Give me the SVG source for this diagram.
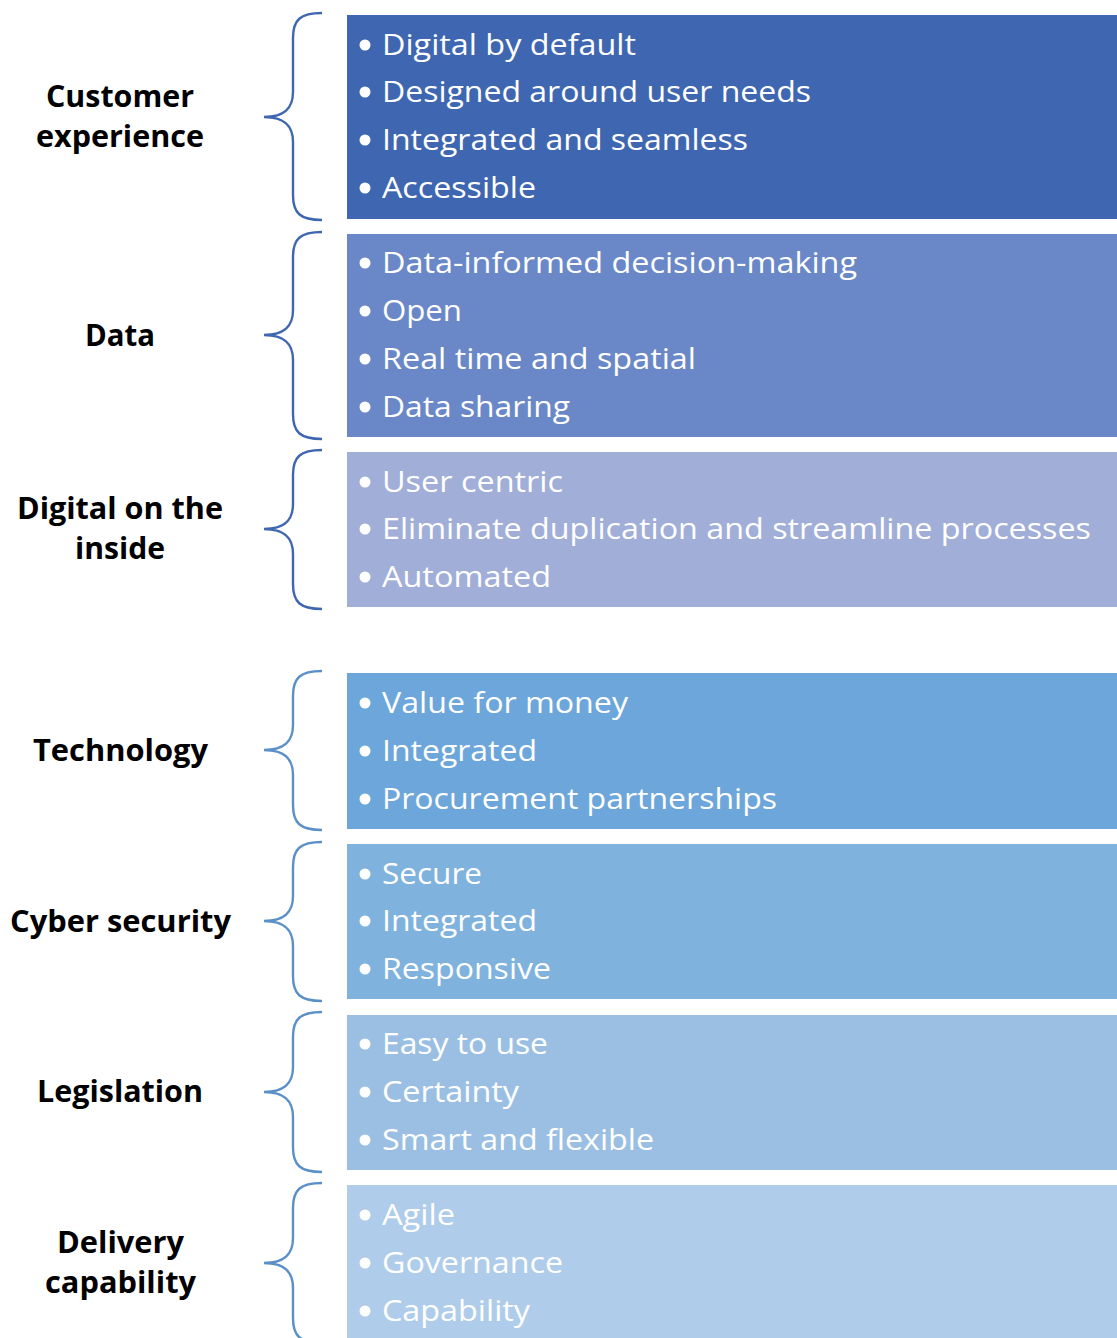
<svg xmlns="http://www.w3.org/2000/svg" width="1117" height="1338" viewBox="0 0 1117 1338">
<style>
.lbl{font-family:"Open Sans","Liberation Sans",sans-serif;font-weight:bold;font-size:30px;fill:#000;text-anchor:start}
.it{font-family:"Open Sans","Liberation Sans",sans-serif;font-size:30px;fill:#fff}
.bul{fill:#fff}
.br1{fill:none;stroke:#3f66b0;stroke-width:2.4}
.br2{fill:none;stroke:#5a8fc8;stroke-width:2.4}
</style>
<rect width="1117" height="1338" fill="#fff"/>
<g id="connectors">
<path class="br1" d="M322,13 C300,13 293,20 293,38 L293,92 C293,108 285,117 264,117 C285,117 293,126 293,142 L293,195 C293,213 300,220 322,220"/>
<path class="br1" d="M322,232 C300,232 293,239 293,257 L293,310 C293,326 285,335 264,335 C285,335 293,344 293,360 L293,414 C293,432 300,439 322,439"/>
<path class="br1" d="M322,450 C300,450 293,457 293,475 L293,504 C293,520 285,529 264,529 C285,529 293,538 293,554 L293,584 C293,602 300,609 322,609"/>
<path class="br2" d="M322,671 C300,671 293,678 293,696 L293,725 C293,741 285,750 264,750 C285,750 293,759 293,775 L293,805 C293,823 300,830 322,830"/>
<path class="br2" d="M322,842 C300,842 293,849 293,867 L293,896 C293,912 285,921 264,921 C285,921 293,930 293,946 L293,976 C293,994 300,1001 322,1001"/>
<path class="br2" d="M322,1012 C300,1012 293,1019 293,1037 L293,1067 C293,1083 285,1092 264,1092 C285,1092 293,1101 293,1117 L293,1147 C293,1165 300,1172 322,1172"/>
<path class="br2" d="M322,1183 C300,1183 293,1190 293,1208 L293,1238 C293,1254 285,1263 264,1263 C285,1263 293,1272 293,1288 L293,1318 C293,1336 300,1343 322,1343"/>
</g>
<g id="customer-experience">
<text class="lbl" x="46" y="107" textLength="148" lengthAdjust="spacingAndGlyphs">Customer</text>
<text class="lbl" x="36" y="147" textLength="168" lengthAdjust="spacingAndGlyphs">experience</text>
<rect x="347" y="15" width="770" height="204" fill="#3f67b1"/>
<circle class="bul" cx="365" cy="45" r="5.5"/><text class="it" x="382" y="55" textLength="254" lengthAdjust="spacingAndGlyphs">Digital by default</text>
<circle class="bul" cx="365" cy="92" r="5.5"/><text class="it" x="382" y="102" textLength="429" lengthAdjust="spacingAndGlyphs">Designed around user needs</text>
<circle class="bul" cx="365" cy="140" r="5.5"/><text class="it" x="382" y="150" textLength="366" lengthAdjust="spacingAndGlyphs">Integrated and seamless</text>
<circle class="bul" cx="365" cy="188" r="5.5"/><text class="it" x="382" y="198" textLength="154" lengthAdjust="spacingAndGlyphs">Accessible</text>
</g>
<g id="data">
<text class="lbl" x="85" y="346" textLength="70" lengthAdjust="spacingAndGlyphs">Data</text>
<rect x="347" y="234" width="770" height="203" fill="#6a88c7"/>
<circle class="bul" cx="365" cy="263" r="5.5"/><text class="it" x="382" y="273" textLength="475" lengthAdjust="spacingAndGlyphs">Data-informed decision-making</text>
<circle class="bul" cx="365" cy="311" r="5.5"/><text class="it" x="382" y="321" textLength="80" lengthAdjust="spacingAndGlyphs">Open</text>
<circle class="bul" cx="365" cy="359" r="5.5"/><text class="it" x="382" y="369" textLength="314" lengthAdjust="spacingAndGlyphs">Real time and spatial</text>
<circle class="bul" cx="365" cy="407" r="5.5"/><text class="it" x="382" y="417" textLength="188" lengthAdjust="spacingAndGlyphs">Data sharing</text>
</g>
<g id="digital-on-the-inside">
<text class="lbl" x="17" y="519" textLength="206" lengthAdjust="spacingAndGlyphs">Digital on the</text>
<text class="lbl" x="75" y="559" textLength="90" lengthAdjust="spacingAndGlyphs">inside</text>
<rect x="347" y="452" width="770" height="155" fill="#a0aed8"/>
<circle class="bul" cx="365" cy="482" r="5.5"/><text class="it" x="382" y="492" textLength="181" lengthAdjust="spacingAndGlyphs">User centric</text>
<circle class="bul" cx="365" cy="529" r="5.5"/><text class="it" x="382" y="539" textLength="709" lengthAdjust="spacingAndGlyphs">Eliminate duplication and streamline processes</text>
<circle class="bul" cx="365" cy="577" r="5.5"/><text class="it" x="382" y="587" textLength="169" lengthAdjust="spacingAndGlyphs">Automated</text>
</g>
<g id="technology">
<text class="lbl" x="33" y="761" textLength="175" lengthAdjust="spacingAndGlyphs">Technology</text>
<rect x="347" y="673" width="770" height="156" fill="#6ca6da"/>
<circle class="bul" cx="365" cy="703" r="5.5"/><text class="it" x="382" y="713" textLength="246" lengthAdjust="spacingAndGlyphs">Value for money</text>
<circle class="bul" cx="365" cy="751" r="5.5"/><text class="it" x="382" y="761" textLength="155" lengthAdjust="spacingAndGlyphs">Integrated</text>
<circle class="bul" cx="365" cy="799" r="5.5"/><text class="it" x="382" y="809" textLength="395" lengthAdjust="spacingAndGlyphs">Procurement partnerships</text>
</g>
<g id="cyber-security">
<text class="lbl" x="10" y="932" textLength="221" lengthAdjust="spacingAndGlyphs">Cyber security</text>
<rect x="347" y="844" width="770" height="155" fill="#80b2de"/>
<circle class="bul" cx="365" cy="874" r="5.5"/><text class="it" x="382" y="884" textLength="100" lengthAdjust="spacingAndGlyphs">Secure</text>
<circle class="bul" cx="365" cy="921" r="5.5"/><text class="it" x="382" y="931" textLength="155" lengthAdjust="spacingAndGlyphs">Integrated</text>
<circle class="bul" cx="365" cy="969" r="5.5"/><text class="it" x="382" y="979" textLength="169" lengthAdjust="spacingAndGlyphs">Responsive</text>
</g>
<g id="legislation">
<text class="lbl" x="37" y="1102" textLength="166" lengthAdjust="spacingAndGlyphs">Legislation</text>
<rect x="347" y="1015" width="770" height="155" fill="#9bbfe3"/>
<circle class="bul" cx="365" cy="1044" r="5.5"/><text class="it" x="382" y="1054" textLength="166" lengthAdjust="spacingAndGlyphs">Easy to use</text>
<circle class="bul" cx="365" cy="1092" r="5.5"/><text class="it" x="382" y="1102" textLength="137" lengthAdjust="spacingAndGlyphs">Certainty</text>
<circle class="bul" cx="365" cy="1140" r="5.5"/><text class="it" x="382" y="1150" textLength="272" lengthAdjust="spacingAndGlyphs">Smart and flexible</text>
</g>
<g id="delivery-capability">
<text class="lbl" x="57" y="1253" textLength="127" lengthAdjust="spacingAndGlyphs">Delivery</text>
<text class="lbl" x="45" y="1293" textLength="151" lengthAdjust="spacingAndGlyphs">capability</text>
<rect x="347" y="1185" width="770" height="153" fill="#afcdea"/>
<circle class="bul" cx="365" cy="1215" r="5.5"/><text class="it" x="382" y="1225" textLength="73" lengthAdjust="spacingAndGlyphs">Agile</text>
<circle class="bul" cx="365" cy="1263" r="5.5"/><text class="it" x="382" y="1273" textLength="181" lengthAdjust="spacingAndGlyphs">Governance</text>
<circle class="bul" cx="365" cy="1311" r="5.5"/><text class="it" x="382" y="1321" textLength="148" lengthAdjust="spacingAndGlyphs">Capability</text>
</g>
</svg>
